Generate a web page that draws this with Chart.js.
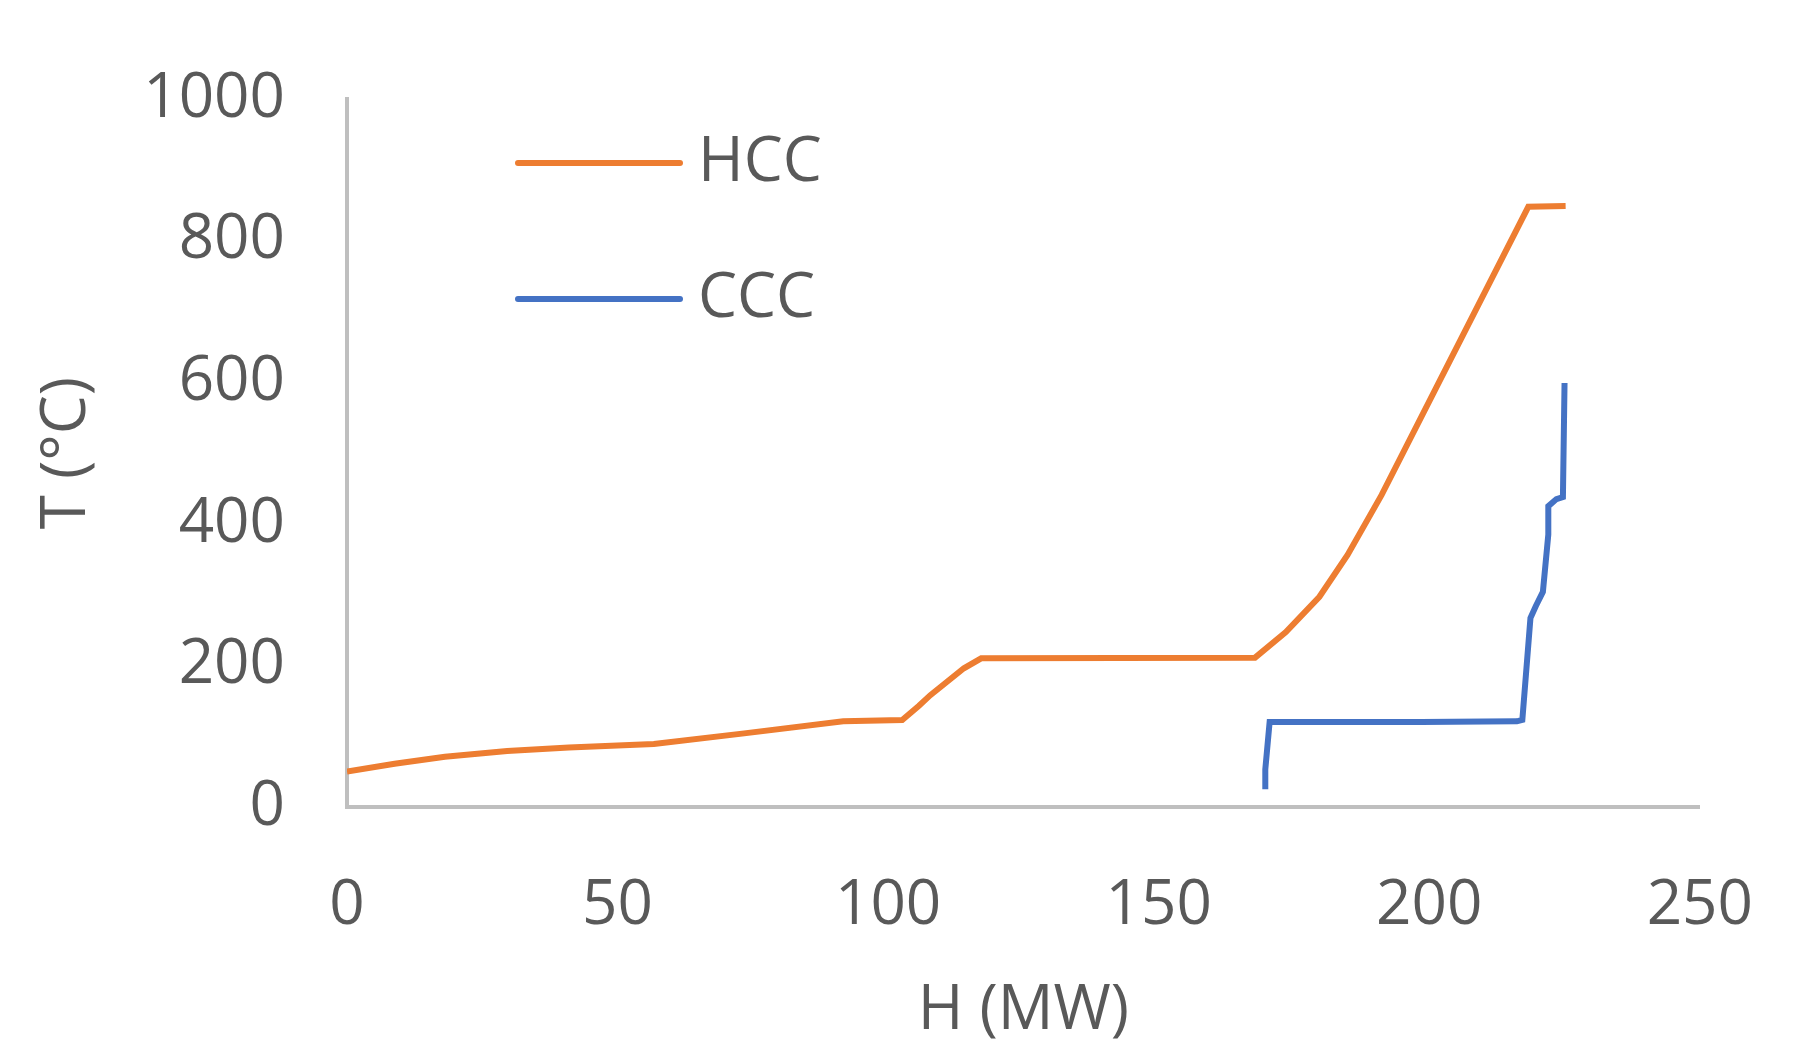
<!DOCTYPE html>
<html><head><meta charset="utf-8">
<script src="https://cdn.jsdelivr.net/npm/chart.js@4"></script>
<style>html,body{margin:0;background:#fff}#wrap{width:1815px;height:1053px}</style>
</head><body><div id="wrap"><canvas id="c"></canvas></div>
<script>
// hot composite curve
const hccH = [0, 8.8, 18.1, 29.6, 41, 56.7, 73.4, 91.7, 102.6, 105.7, 107.8, 114, 117.2, 167.8, 173.5, 179.7, 184.9, 191.2, 218.3, 225.2];
const hccT = [50, 61, 71, 79, 84, 89, 104, 121, 123, 143, 158, 196, 210, 211, 247, 297, 356, 441, 848, 849];
// cold composite curve
const cccH = [169.7, 169.7, 170.5, 198.5, 216.2, 217.2, 218.7, 219.7, 221, 222, 222, 223.5, 224.7, 225];
const cccT = [25, 53, 120, 120, 121, 123, 267, 284, 304, 385, 425, 435, 438, 599];
const seriesNames = ['HCC', 'CCC'];
const seriesColors = ['#ed7d31', '#4472c4'];

const pts = (xs, ys) => xs.map((x, i) => ({x: x, y: ys[i]}));
const font = {family: 'Open Sans, Liberation Sans, sans-serif', size: 62};

// legend drawn inside the plot like the original
const insideLegend = {
    id: 'insideLegend',
    afterDraw(chart) {
        const ctx = chart.ctx;
        ctx.save();
        seriesNames.forEach((name, i) => {
            const y = 163 + i * 136;
            ctx.strokeStyle = seriesColors[i];
            ctx.lineWidth = 6;
            ctx.lineCap = 'round';
            ctx.beginPath(); ctx.moveTo(518, y); ctx.lineTo(680, y); ctx.stroke();
            ctx.fillStyle = '#595959';
            ctx.font = '62px "Open Sans", sans-serif';
            ctx.textBaseline = 'middle';
            ctx.fillText(name, 698, y);
        });
        ctx.restore();
    }
};

new Chart(document.getElementById('c'), {
    type: 'scatter',
    data: {datasets: [
        {label: seriesNames[0], data: pts(hccH, hccT), showLine: true, borderColor: seriesColors[0], borderWidth: 6, pointRadius: 0},
        {label: seriesNames[1], data: pts(cccH, cccT), showLine: true, borderColor: seriesColors[1], borderWidth: 6, pointRadius: 0}
    ]},
    options: {
        responsive: true, maintainAspectRatio: false, animation: false,
        layout: {padding: {top: 22, right: 54}},
        plugins: {legend: {display: false}, tooltip: {enabled: false}},
        scales: {
            x: {
                min: 0, max: 250,
                ticks: {stepSize: 50, color: '#595959', font: font, padding: 62},
                grid: {display: false, drawTicks: false},
                border: {color: '#bfbfbf', width: 4},
                title: {display: true, text: 'H (MW)', color: '#595959', font: font, padding: {top: 0}},
                afterFit: s => { s.height = 246; }
            },
            y: {
                min: 0, max: 1000,
                ticks: {stepSize: 200, color: '#595959', font: font, padding: 62, callback: v => String(v)},
                grid: {display: false, drawTicks: false},
                border: {color: '#bfbfbf', width: 4},
                title: {display: true, text: 'T (°C)', color: '#595959', font: font, padding: {top: 30}},
                afterFit: s => { s.width = 347; }
            }
        }
    },
    plugins: [insideLegend]
});
</script>
</body></html>
